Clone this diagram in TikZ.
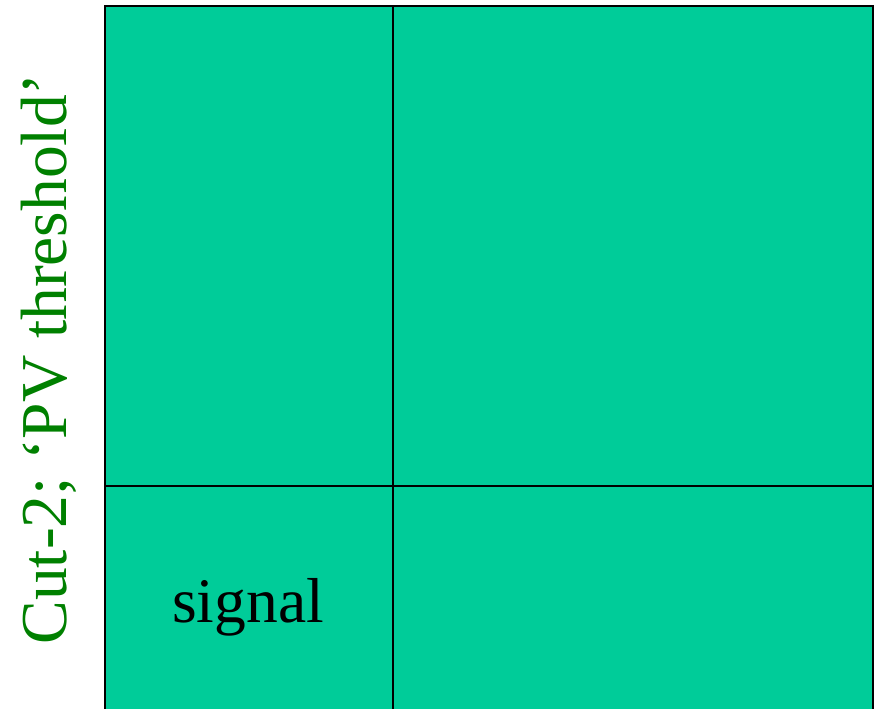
\documentclass[tikz,border=0pt]{standalone}
\usepackage{fontspec}
\setmainfont{Liberation Serif}
\definecolor{cellfill}{HTML}{00CC99}
\definecolor{labelgreen}{HTML}{008000}
\tikzset{
  cell/.style={draw=black, line width=2pt, fill=cellfill},
  divider/.style={draw=black, line width=2pt},
  bigtext/.style={font=\fontsize{63.5}{70}\selectfont, inner sep=0pt},
  sidetext/.style={font=\fontsize{65.5}{72}\selectfont, inner sep=0pt, text=labelgreen}
}
\begin{document}
\begin{tikzpicture}[x=1pt,y=-1pt]
\useasboundingbox (0,0) rectangle (876,709);
\begin{scope}
\clip (0,0) rectangle (876,709);
\path[cell] (105,6) rectangle (873,730);
\coordinate (vtop) at (393,6);
\coordinate (vbot) at (393,730);
\coordinate (hleft) at (105,486);
\coordinate (hright) at (873,486);
\draw[divider] (vtop) -- (vbot);
\draw[divider] (hleft) -- (hright);
\end{scope}
\node[bigtext, anchor=base] (sig) at (248,622) {signal};
\node[sidetext, rotate=90, anchor=base] (cut) at (66,359) {Cut-2; ‘PV threshold’};
\end{tikzpicture}
\end{document}
